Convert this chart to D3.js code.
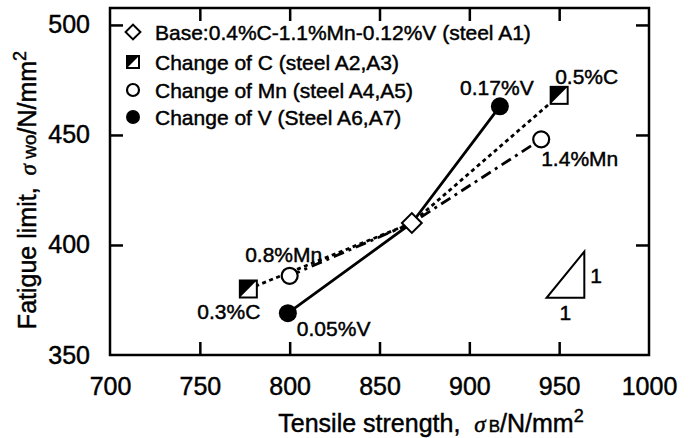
<!DOCTYPE html>
<html>
<head>
<meta charset="utf-8">
<script src="https://cdn.jsdelivr.net/npm/d3@7"></script>
<style>
  body { margin: 0; background: #fff; }
  text { font-family: "Liberation Sans", Arial, sans-serif; fill: #000; stroke: #000; stroke-width: 0.45px; }
</style>
</head>
<body>
<svg id="chart"></svg>
<script>
// values
const legendLabels = [
  'Base:0.4%C-1.1%Mn-0.12%V (steel A1)',
  'Change of C (steel A2,A3)',
  'Change of Mn (steel A4,A5)',
  'Change of V (Steel A6,A7)'
];
const baseTS = 868;
const baseFL = 410;
const cTS = [777, 950];
const cFL = [380, 468];
const cLabels = ['0.3%C', '0.5%C'];
const mnTS = [800, 940];
const mnFL = [386, 448];
const mnLabels = ['0.8%Mn', '1.4%Mn'];
const vTS = [799, 917];
const vFL = [369, 463];
const vLabels = ['0.05%V', '0.17%V'];
const xTicks = [700, 750, 800, 850, 900, 950, 1000];
const yTicks = [350, 400, 450, 500];
// slope triangle (1:1) corners in data units
const triTS = [943, 964, 964];
const triFL = [376, 376, 397];

const width = 691;
const height = 438;
const margin = { top: 8, right: 42, bottom: 83, left: 110 };

const svg = d3.select('#chart').attr('width', width).attr('height', height);

const x = d3.scaleLinear().domain([700, 1000]).range([margin.left, width - margin.right]);
const y = d3.scaleLinear().domain([350, 507.7]).range([height - margin.bottom, margin.top]);

// axes, ticks pointing inwards
const tickLen = 13;
svg.append('g')
  .attr('transform', 'translate(0,' + (height - margin.bottom) + ')')
  .call(d3.axisBottom(x).tickValues(xTicks).tickSize(-tickLen).tickPadding(22).tickFormat(d3.format('d')))
  .call(g => g.select('.domain').remove())
  .call(g => g.selectAll('text').style('font-size', '25px'));
svg.append('g')
  .attr('transform', 'translate(' + margin.left + ',0)')
  .call(d3.axisLeft(y).tickValues(yTicks).tickSize(-tickLen).tickPadding(20))
  .call(g => g.select('.domain').remove())
  .call(g => g.selectAll('text').style('font-size', '25px'));
svg.append('g')
  .attr('transform', 'translate(0,' + margin.top + ')')
  .call(d3.axisTop(x).tickValues(xTicks).tickSize(-tickLen).tickFormat(''))
  .call(g => g.select('.domain').remove());
svg.append('g')
  .attr('transform', 'translate(' + (width - margin.right) + ',0)')
  .call(d3.axisRight(y).tickValues(yTicks).tickSize(-tickLen).tickFormat(''))
  .call(g => g.select('.domain').remove());
svg.selectAll('.tick line').attr('stroke', '#000').attr('stroke-width', 2.5);
// hide ticks that sit on the frame corners
svg.selectAll('.tick').filter(d => d === 700 || d === 1000 || d === 350).select('line').remove();

svg.append('rect')
  .attr('x', margin.left)
  .attr('y', margin.top)
  .attr('width', width - margin.left - margin.right)
  .attr('height', height - margin.top - margin.bottom)
  .attr('fill', 'none')
  .attr('stroke', '#000')
  .attr('stroke-width', 2.5);

// axis titles
const xt = svg.append('text')
  .attr('x', 431)
  .attr('y', 432)
  .attr('text-anchor', 'middle')
  .style('font-size', '25px');
xt.append('tspan').text('Tensile strength,');
xt.append('tspan').text('σ').attr('dx', 14).style('font-family', '"Liberation Serif", serif').style('font-style', 'italic').style('font-size', '23px');
xt.append('tspan').text('B').style('font-size', '17px').attr('dx', 3);
xt.append('tspan').text('/N/mm');
xt.append('tspan').text('2').style('font-size', '18px').attr('dy', -10);

const yt = svg.append('text')
  .attr('transform', 'translate(36,190) rotate(-90)')
  .attr('text-anchor', 'middle')
  .style('font-size', '25px');
yt.append('tspan').text('Fatigue limit,');
yt.append('tspan').text('σ').attr('dx', 12).style('font-family', '"Liberation Serif", serif').style('font-style', 'italic').style('font-size', '23px');
yt.append('tspan').text(' wo').style('font-size', '19px');
yt.append('tspan').text('/N/mm');
yt.append('tspan').text('2').style('font-size', '18px').attr('dy', -10);

// lines through the base steel
const line = d3.line().x(d => x(d[0])).y(d => y(d[1]));
const series = [
  { ts: cTS, fl: cFL, dash: '4,3.5' },
  { ts: mnTS, fl: mnFL, dash: '11,5,3,5' },
  { ts: vTS, fl: vFL, dash: null }
];
series.forEach(s => {
  const pts = [[s.ts[0], s.fl[0]], [baseTS, baseFL], [s.ts[1], s.fl[1]]];
  svg.append('path')
    .attr('d', line(pts))
    .attr('fill', 'none')
    .attr('stroke', '#000')
    .attr('stroke-width', 2.8)
    .attr('stroke-dasharray', s.dash);
});

// marker helpers
const diamond = (g, s) => g.append('path')
  .attr('d', d3.symbol(d3.symbolSquare, s * s)())
  .attr('transform', 'rotate(45)')
  .attr('fill', '#fff').attr('stroke', '#000').attr('stroke-width', 2);
const halfSquare = (g, s) => {
  const h = s / 2;
  g.append('rect').attr('x', -h).attr('y', -h).attr('width', s).attr('height', s)
    .attr('fill', '#fff').attr('stroke', '#000').attr('stroke-width', 2);
  g.append('path').attr('d', `M${-h},${-h}L${h},${-h}L${-h},${h}Z`).attr('fill', '#000');
};
const openCircle = (g, r) => g.append('circle').attr('r', r)
  .attr('fill', '#fff').attr('stroke', '#000').attr('stroke-width', 2.2);
const dot = (g, r) => g.append('circle').attr('r', r).attr('fill', '#000');

const at = (ts, fl) => svg.append('g').attr('transform', `translate(${x(ts)},${y(fl)})`);

diamond(at(baseTS, baseFL), 14);
cTS.forEach((t, i) => halfSquare(at(t, cFL[i]), 17));
mnTS.forEach((t, i) => openCircle(at(t, mnFL[i]), 8));
vTS.forEach((t, i) => dot(at(t, vFL[i]), 9));

// point labels (pixel offsets from their point)
const labelStyle = [
  { lab: cLabels, ts: cTS, fl: cFL, off: [[12, 30, 'end'], [-4, -11, 'start']] },
  { lab: mnLabels, ts: mnTS, fl: mnFL, off: [[-6, -14, 'middle'], [0, 27, 'start']] },
  { lab: vLabels, ts: vTS, fl: vFL, off: [[9, 23, 'start'], [-3, -11, 'middle']] }
];
labelStyle.forEach(s => {
  s.lab.forEach((t, i) => {
    svg.append('text')
      .attr('x', x(s.ts[i]) + s.off[i][0])
      .attr('y', y(s.fl[i]) + s.off[i][1])
      .attr('text-anchor', s.off[i][2])
      .style('font-size', '21px')
      .text(t);
  });
});

// slope triangle
svg.append('path')
  .attr('d', line(triTS.map((t, i) => [t, triFL[i]])) + 'Z')
  .attr('fill', 'none')
  .attr('stroke', '#000')
  .attr('stroke-width', 2);
svg.append('text').attr('x', x(triTS[2]) + 6).attr('y', y((triFL[1] + triFL[2]) / 2) + 8)
  .style('font-size', '21px').text('1');
svg.append('text').attr('x', x((triTS[0] + triTS[1]) / 2)).attr('y', y(triFL[0]) + 22)
  .attr('text-anchor', 'middle').style('font-size', '21px').text('1');

// legend
const legendY = [32, 62, 90, 117];
const legendMarkers = [
  g => diamond(g, 10.5),
  g => halfSquare(g, 12),
  g => openCircle(g, 6),
  g => dot(g, 7)
];
legendLabels.forEach((t, i) => {
  const g = svg.append('g').attr('transform', `translate(133,${legendY[i]})`);
  legendMarkers[i](g);
  svg.append('text')
    .attr('x', 155)
    .attr('y', legendY[i] + 7.5)
    .style('font-size', '21px')
    .text(t);
});
</script>
</body>
</html>
